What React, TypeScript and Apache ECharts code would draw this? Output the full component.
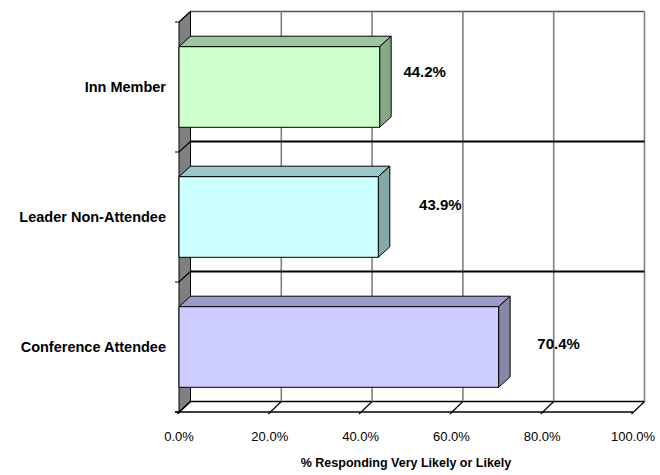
import React, { useEffect, useRef } from "react";
import * as echarts from "echarts";

// Survey results: share of respondents answering "very likely" or "likely"
const categories = ["Inn Member", "Leader Non-Attendee", "Conference Attendee"];
const values = [44.2, 43.9, 70.4];
const xTicks = [0, 20, 40, 60, 80, 100];

// Bar faces: front, top and side shading per category
const faceColors = ["#CCFFCC", "#CCFFFF", "#CCCCFF"];
const topColors = ["#9BC89B", "#9BC8C8", "#9B9BC8"];
const sideColors = ["#87A887", "#87A8A8", "#8787A8"];

// Value label nudges from the bar end (px)
const labelNudge = [
  [45, -16],
  [62, -13],
  [60, -4],
];

// 3D depth offset of the back wall relative to the front plane
const DX = 11.5;
const DY = -10.5;

const FONT = "'Liberation Sans', Arial, sans-serif";

export default function App() {
  const ref = useRef<HTMLDivElement>(null);

  useEffect(() => {
    if (!ref.current) return;
    const chart = echarts.init(ref.current, null, { renderer: "svg" });

    // Back wall gridlines, floor diagonals, left wall and front axis line
    const frameItem = (params: any, api: any) => {
      const cs = params.coordSys;
      const top = cs.y;
      const bottom = cs.y + cs.height;
      const left = cs.x;
      const right = cs.x + cs.width;
      const v = api.value(0);
      const px = api.coord([v, 0])[0];
      const children: any[] = [];
      if (params.dataIndex === 0) {
        children.push({
          type: "polygon",
          shape: {
            points: [
              [left, top],
              [left + DX, top + DY],
              [left + DX, bottom + DY],
              [left, bottom],
            ],
          },
          style: { fill: "#808080", stroke: "#000", lineWidth: 1 },
        });
        children.push({
          type: "line",
          shape: { x1: left + DX, y1: top + DY, x2: right + DX, y2: top + DY },
          style: { stroke: "#555", lineWidth: 1.5 },
        });
        children.push({
          type: "line",
          shape: { x1: left + DX, y1: bottom + DY, x2: right + DX, y2: bottom + DY },
          style: { stroke: "#000", lineWidth: 1.5 },
        });
        children.push({
          type: "line",
          shape: { x1: left - 4, y1: bottom, x2: right, y2: bottom },
          style: { stroke: "#000", lineWidth: 1.5 },
        });
      }
      children.push({
        type: "line",
        shape: { x1: px + DX, y1: top + DY, x2: px + DX, y2: bottom + DY },
        style: { stroke: v === 0 ? "#000" : "#808080", lineWidth: v === 0 ? 1 : 1.6 },
      });
      children.push({
        type: "line",
        shape: { x1: px - 1.5, y1: bottom + 2, x2: px + DX, y2: bottom + DY },
        style: { stroke: "#000", lineWidth: 1.2 },
      });
      return { type: "group", children };
    };

    // Category dividers across the back wall and left wall
    const dividerItem = (params: any, api: any) => {
      const cs = params.coordSys;
      const left = cs.x;
      const right = cs.x + cs.width;
      const idx = api.value(1);
      const yc = api.coord([0, idx])[1];
      const band = api.size([0, 1])[1];
      const edges = [yc - band / 2];
      if (params.dataIndex === categories.length - 1) edges.push(yc + band / 2);
      const children: any[] = [];
      edges.forEach((y, k) => {
        const isTop = params.dataIndex === 0 && k === 0;
        children.push({
          type: "polyline",
          shape: {
            points: [
              [left - 4, y],
              [left, y],
              [left + DX, y + DY],
            ],
          },
          style: { stroke: "#000", lineWidth: 1.2, fill: null },
        });
        if (!isTop && k === 0) {
          children.push({
            type: "line",
            shape: { x1: left + DX, y1: y + DY, x2: right + DX, y2: y + DY },
            style: { stroke: "#000", lineWidth: 1.8 },
          });
        }
      });
      return { type: "group", children };
    };

    // 3D bars: front face, top face, side face and value label
    const barItem = (params: any, api: any) => {
      const v = api.value(0);
      const i = api.value(1);
      const start = api.coord([0, i]);
      const end = api.coord([v, i]);
      const h = api.size([0, 1])[1] * 0.62;
      const x0 = start[0];
      const x1 = end[0];
      const yc = start[1];
      const y0 = yc - h / 2;
      const y1 = yc + h / 2;
      const edge = { stroke: "#000", lineWidth: 1 };
      return {
        type: "group",
        children: [
          {
            type: "polygon",
            shape: {
              points: [
                [x0, y0],
                [x0 + DX, y0 + DY],
                [x1 + DX, y0 + DY],
                [x1, y0],
              ],
            },
            style: { fill: topColors[i], ...edge },
          },
          {
            type: "polygon",
            shape: {
              points: [
                [x1, y0],
                [x1 + DX, y0 + DY],
                [x1 + DX, y1 + DY],
                [x1, y1],
              ],
            },
            style: { fill: sideColors[i], ...edge },
          },
          {
            type: "rect",
            shape: { x: x0, y: y0, width: x1 - x0, height: h },
            style: { fill: faceColors[i], ...edge },
          },
          {
            type: "text",
            x: x1 + labelNudge[i][0],
            y: yc + labelNudge[i][1],
            style: {
              text: `${v.toFixed(1)}%`,
              fill: "#000",
              font: `bold 15px ${FONT}`,
              align: "center",
              verticalAlign: "middle",
            },
          },
        ],
      };
    };

    chart.setOption({
      animation: false,
      backgroundColor: "#fff",
      grid: { left: 179, top: 22, width: 454, height: 390, containLabel: false },
      xAxis: {
        type: "value",
        min: 0,
        max: 100,
        interval: 20,
        axisLine: { show: false },
        axisTick: { show: false },
        splitLine: { show: false },
        axisLabel: {
          margin: 18,
          color: "#000",
          fontSize: 13,
          fontFamily: FONT,
          formatter: (v: number) => `${v.toFixed(1)}%`,
        },
        name: "% Responding Very Likely or Likely",
        nameLocation: "middle",
        nameGap: 44,
        nameTextStyle: { color: "#000", fontSize: 12.5, fontWeight: "bold", fontFamily: FONT },
      },
      yAxis: {
        type: "category",
        data: categories,
        inverse: true,
        axisLine: { show: false },
        axisTick: { show: false },
        splitLine: { show: false },
        axisLabel: {
          margin: 13,
          color: "#000",
          fontSize: 14.5,
          fontWeight: "bold",
          fontFamily: FONT,
        },
      },
      series: [
        {
          type: "custom",
          name: "frame",
          silent: true,
          clip: false,
          z: 1,
          renderItem: frameItem,
          encode: { x: 0, y: 1 },
          data: xTicks.map((t) => [t, 0]),
        },
        {
          type: "custom",
          name: "dividers",
          silent: true,
          clip: false,
          z: 2,
          renderItem: dividerItem,
          encode: { x: 0, y: 1 },
          data: categories.map((_, i) => [0, i]),
        },
        {
          type: "custom",
          name: "% Responding Very Likely or Likely",
          silent: true,
          clip: false,
          z: 3,
          renderItem: barItem,
          encode: { x: 0, y: 1 },
          data: values.map((v, i) => [v, i]),
        },
      ],
    });

    return () => chart.dispose();
  }, []);

  return (
    <div
      ref={ref}
      style={{ position: "fixed", left: 0, top: 0, width: 660, height: 475 }}
    />
  );
}
